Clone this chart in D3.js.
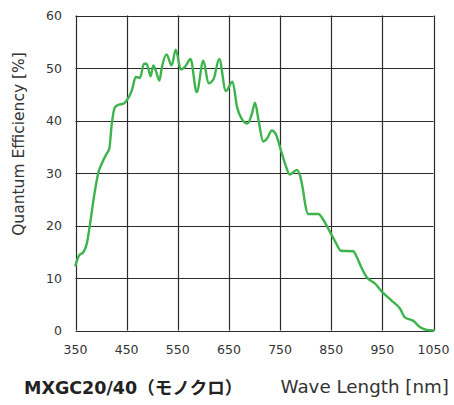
<!DOCTYPE html>
<html><head><meta charset="utf-8">
<script src="https://cdn.jsdelivr.net/npm/d3@7"></script>
<style>
html,body{margin:0;padding:0;background:#fff;}
svg{display:block;}
</style></head>
<body>
<svg id="chart" width="454" height="405"></svg>
<script>
const wavelengths = [350,357,365,372,378,386,395,401,411,416,421,427,434,444,450,460,468,476,484,489,497,502,507,514,519,528,538,546,556,564,575,587,600,610,620,631,644,657,666,675,686,695,701,708,717,724,734,743,750,760,769,783,789,795,799,805,825,835,848,857,869,893,900,910,919,936,950,968,985,994,1011,1024,1037,1050];
const efficiency = [12.4,14.3,14.9,16.5,20,25.4,30.2,31.7,33.7,34.6,39.4,42.5,43,43.2,43.8,45.7,48.3,48.1,50.8,50.8,48.4,50.5,49.5,47.6,50.2,52.6,50.5,53.5,49.7,50.2,51.7,45.4,51.4,47.1,47.9,51.7,45.6,47.4,42.5,40.3,39.4,41.3,43.4,40,36,36.5,38.1,37.1,34.9,31.7,29.7,30.6,29.5,26.7,24.1,22.2,22.2,21,18.7,17.1,15.2,15.1,14,11.8,10.2,8.9,7.3,5.7,4.1,2.5,1.8,0.6,0.1,0];
const xTicks = [350,450,550,650,750,850,950,1050];
const yTicks = [0,10,20,30,40,50,60];
const yTitle = "Quantum Efficiency [%]";
const xTitle = "Wave Length [nm]";
const modelLatin = "MXGC20/40";
const modelCJK = "（モノクロ）";

const svg = d3.select("#chart");
const L = 75.5, R = 433.5, T = 15.5, B = 330.5;
const x = d3.scaleLinear().domain([350,1050]).range([L,R]);
const y = d3.scaleLinear().domain([0,60]).range([B,T]);
const font = "'DejaVu Sans', Verdana, sans-serif";

// grid
const g = svg.append("g");
g.selectAll("line.v").data(xTicks).join("line")
  .attr("x1", d=>Math.round(x(d))+0.5).attr("x2", d=>Math.round(x(d))+0.5)
  .attr("y1", T).attr("y2", B).attr("stroke","#2b2b2b").attr("stroke-width",1.2);
g.selectAll("line.h").data(yTicks).join("line")
  .attr("y1", d=>Math.round(y(d))+0.5).attr("y2", d=>Math.round(y(d))+0.5)
  .attr("x1", L).attr("x2", R).attr("stroke","#2b2b2b").attr("stroke-width",1.2);

// tick labels
svg.append("g").selectAll("text").data(xTicks).join("text")
  .attr("x", d=>x(d)).attr("y", 354).attr("text-anchor","middle")
  .attr("font-family", font).attr("font-size", 12.5).attr("fill","#333").text(d=>d);
svg.append("g").selectAll("text").data(yTicks).join("text")
  .attr("x", 62).attr("y", d=>y(d)+4.5).attr("text-anchor","end")
  .attr("font-family", font).attr("font-size", 12.5).attr("fill","#333").text(d=>d);

// line
const line = d3.line().x((d,i)=>x(wavelengths[i])).y(d=>y(d)).curve(d3.curveMonotoneX);
svg.append("path").datum(efficiency).attr("d", line)
  .attr("fill","none").attr("stroke","#3cb44b").attr("stroke-width",2.4)
  .attr("stroke-linejoin","round").attr("stroke-linecap","round");

// y title
svg.append("text").attr("transform","translate(24,144) rotate(-90)")
  .attr("text-anchor","middle").attr("font-family", font).attr("font-size", 15.5)
  .attr("fill","#333").text(yTitle);

// x title
svg.append("text").attr("x", 449).attr("y", 393).attr("text-anchor","end")
  .attr("font-family", font).attr("font-size", 18.3).attr("fill","#333").text(xTitle);

// model label
const mt = svg.append("text").attr("x", 24).attr("y", 394)
  .attr("font-weight","bold").attr("fill","#222");
mt.append("tspan").attr("font-family", font).attr("font-size", 17.5).text(modelLatin);
mt.append("tspan").attr("font-family", "'Noto Sans CJK JP', sans-serif").attr("font-size", 17.5).text(modelCJK);
</script>
</body></html>
